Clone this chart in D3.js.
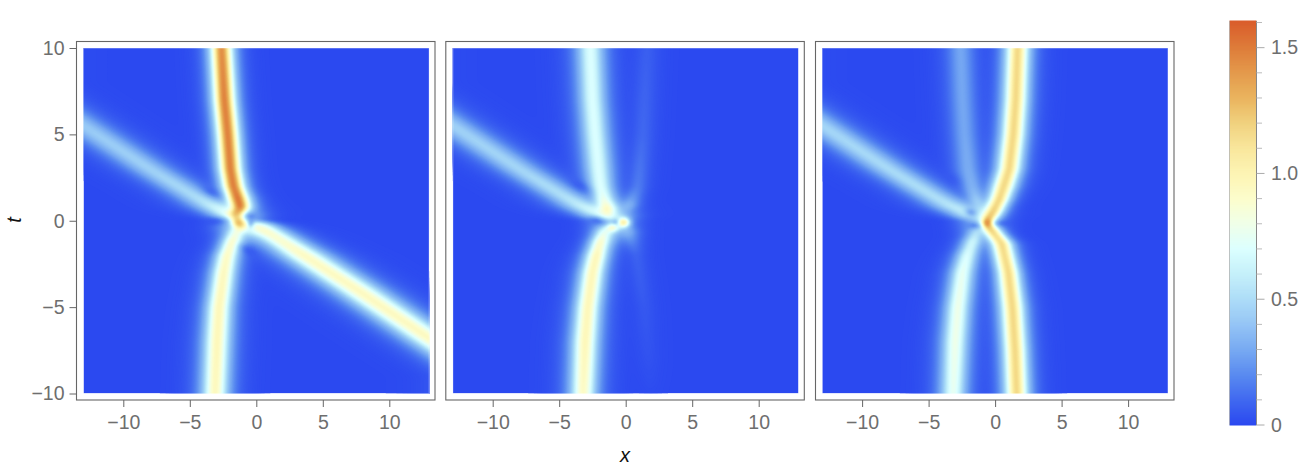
<!DOCTYPE html>
<html><head><meta charset="utf-8">
<script src="https://cdn.jsdelivr.net/npm/d3@7"></script>
<style>html,body{margin:0;background:#fff}svg{display:block}text{font-family:"Liberation Sans",Arial,sans-serif}</style>
</head><body><svg id="c" width="1310" height="474"></svg>
<script>
// Ridge rows: [t, x centre, amplitude, horizontal width]
const p1Upper=[[10,-2.62,1.5,.5],[7,-2.4,1.55,.5],[5,-2.15,1.55,.5],[3,-1.95,1.55,.5],[2,-1.72,1.55,.5],[1.3,-1.4,1.5,.5],[.8,-1.2,1.35,.45],[.45,-1.3,.7,.4],[.2,-1.4,0,.4]];
const p1Lower=[[-10,-3.1,.98,.62],[-7,-2.95,1,.62],[-5,-2.8,1,.6],[-3,-2.45,.98,.58],[-2,-2.2,.95,.55],[-1.2,-1.8,.85,.5],[-.6,-1.5,.5,.45],[-.2,-1.3,0,.4]];
const p1DiagL=[[8,-18,.45,1.15],[5.5,-13,.45,1.15],[3,-8,.48,1.1],[1.6,-5,.52,1.05],[.8,-3.2,.58,1.05],[.3,-2,.5,.95],[0,-1.5,0,.8]];
const p1DiagR=[[0,-.4,0,.8],[-.2,.2,.65,.8],[-.6,.8,.88,.95],[-2,3.6,.96,1.12],[-4,7.6,.97,1.15],[-6.8,13,.97,1.15],[-9,17.4,.97,1.15]];
const p2Upper=[[10,-2.66,.72,.66],[7,-2.5,.72,.66],[5,-2.3,.72,.66],[3,-2.05,.72,.66],[2,-1.9,.72,.62],[1.2,-1.65,.72,.55],[.7,-1.4,.7,.5],[.2,-1.2,0,.4]];
const p2Lower=[[-10,-3.2,.95,.62],[-7,-3.05,1,.62],[-5,-2.85,1,.6],[-3,-2.5,1,.58],[-2,-2.2,1,.55],[-1.2,-1.9,.85,.5],[-.6,-1.6,.5,.45],[-.2,-1.4,0,.4]];
const p2DiagL=[[8,-18,.48,1.15],[5.5,-13,.48,1.15],[3,-8,.5,1.1],[1.6,-5,.54,1.05],[.8,-3.2,.6,1.05],[.3,-2,.5,.95],[0,-1.5,0,.8]];
const p2FanUp=[[10,1.6,.07,.6],[5,1.3,.1,.55],[2,.9,.16,.5],[.9,.3,.25,.45],[.3,0,0,.4]];
const p2FanDown=[[-10,1.9,.01,.6],[-8,1.7,.03,.6],[-5,1.4,.05,.55],[-2,.8,.08,.5],[-.6,.2,.2,.45],[-.2,0,0,.4]];
const p3Upper=[[10,1.69,1.2,.55],[7,1.55,1.2,.55],[5,1.37,1.2,.55],[3,1.06,1.2,.55],[2,.65,1.2,.55],[1.2,.3,1.18,.5],[.5,-.15,1.05,.45],[.1,-.5,1,.35],[-.15,-.6,.85,.3],[-.35,-.6,0,.3]];
const p3Branch=[[.05,-.6,0,.3],[-.15,-.6,.85,.3],[-.5,-.3,1.05,.38],[-1.3,.5,1.18,.5],[-3,1,1.2,.52],[-5,1.3,1.2,.55],[-7.5,1.5,1.2,.55],[-10,1.62,1.2,.55]];
const p3Faint=[[10,-2.6,.3,.65],[7,-2.45,.3,.65],[5,-2.3,.3,.65],[3,-2.05,.32,.65],[2,-1.75,.34,.6],[1.2,-1.4,.38,.5],[.5,-1,.2,.4],[.1,-.8,0,.4]];
const p3Lower=[[-10,-3.15,.78,.62],[-7,-3,.82,.62],[-5,-2.8,.82,.6],[-3,-2.45,.78,.58],[-2,-2.1,.72,.55],[-1.2,-1.7,.6,.5],[-.6,-1.4,.3,.4],[-.2,-1.2,0,.4]];
const p3DiagL=[[8,-18,.5,1.15],[5.5,-13,.5,1.15],[3,-8,.52,1.1],[1.6,-5,.54,1.05],[.8,-3.2,.56,1.05],[.3,-2,.42,.95],[0,-1.5,0,.8]];
// Spot rows: [x, t, spread x, spread t, tilt degrees, delta] (negative delta = hole; applied in order)
const p1Spots=[[-1.3,0,1.2,.75,0,.42],[-1.35,-.08,.4,.22,-35,.9],[-1.6,.48,.3,.13,0,.3],[-3.35,1.63,.5,.16,-25,-.6],[-3.1,0,.55,.14,0,-.8],[-.47,.28,.3,.1,0,-.85],[-.42,-.18,.13,.13,0,-.9],[-.6,-1.7,.5,.17,-25,-.65]];
const p2Spots=[[-1,0,1.2,.75,0,.42],[-1.4,.45,.42,.16,-20,.12],[-.15,-.1,.3,.15,0,1],[-.95,-.38,.3,.13,0,.6],[-2.15,.05,.45,.14,-15,-.8],[-.73,-.1,.14,.08,0,-.9],[-3.4,2,.55,.18,-25,-.6]];
const p3Spots=[[-1,0,1.2,.7,0,.36],[-.57,-.15,.24,.15,0,.42],[-1.8,.47,.3,.12,-15,-.8],[-1.5,-.28,.32,.09,0,-.9],[.5,-.15,.45,.09,0,-.7],[-3.1,2.36,.45,.2,-30,-.35]];
const panelRidges=[[p1Upper,p1Lower,p1DiagL,p1DiagR],[p2Upper,p2Lower,p2DiagL,p2FanUp,p2FanDown],[p3Upper,p3Branch,p3Faint,p3Lower,p3DiagL]];
const panelSpots=[p1Spots,p2Spots,p3Spots];
const xTicks=[-10,-5,0,5,10], yTicks=[-10,-5,0,5,10];
const barLabels=[0,.5,1,1.5];
const barMinor=[.1,.2,.3,.4,.6,.7,.8,.9,1.1,1.2,1.3,1.4,1.6];
const colorValues=[0,.1,.2,.3,.4,.5,.6,.7,.8,.9,1,1.1,1.2,1.3,1.4,1.5,1.6];
const colorHex=["#2b49f0","#4169f0","#5a8bf0","#78aaf2","#90c2f5","#a8daf7","#c4f0fa","#dcffff","#f0ffe8","#fcfdcc","#fdf4b2","#f8e596","#f0cf78","#eab45f","#e49a4c","#de7c3a","#da5e2c"];

const color=d3.scaleLinear().domain(colorValues).range(colorHex).clamp(true);
const panelLeft=[83.4,452.8,822.2], panelW=345.8, plotTop=48, plotBottom=393.5;
const frameLeft=[76.5,445.8,815.5], frameW=358.5, frameTop=41.5, frameBottom=400;
const ink="#6e6e6e", frameInk="#666", labelSize=19.5;
const svg=d3.select("#c");

function makeRidge(rows){
  const ts=rows.map(r=>r[0]);
  const at=i=>d3.scaleLinear().domain(ts).range(rows.map(r=>r[i])).clamp(true);
  const X=at(1),A=at(2),W=at(3);
  return (x,t)=>A(t)/Math.cosh((x-X(t))/W(t));
}
function field(ridges,spots,x,t){
  let s=0; for(const r of ridges){ s+=Math.pow(r(x,t),2.5); }
  let v=Math.pow(s,1/2.5);
  for(const [sx,st,wx,wt,deg,d] of spots){
    const a=deg*Math.PI/180,dx=x-sx,dt=(t-st)*1.3;
    const u=dx*Math.cos(a)+dt*Math.sin(a),w=(-dx*Math.sin(a)+dt*Math.cos(a))/1.3;
    const g=Math.exp(-.5*(u*u/(wx*wx)+w*w/(wt*wt)));
    if(d>=0) v+=d*g; else v*=1+d*g;
  }
  return Math.max(0,v);
}
const defs=svg.append("defs");
panelRidges.forEach((rowsList,pi)=>{
  const x=d3.scaleLinear().domain([-13,13]).range([panelLeft[pi],panelLeft[pi]+panelW]);
  const y=d3.scaleLinear().domain([-10,10]).range([plotBottom,plotTop]);
  const nx=320,ny=320;
  const gx=d3.scaleLinear().domain([0,nx]).range([-14,14]);
  const gy=d3.scaleLinear().domain([0,ny]).range([11,-11]);
  const ridges=rowsList.map(makeRidge), vals=new Float64Array(nx*ny);
  for(let j=0;j<ny;j++)for(let i=0;i<nx;i++) vals[j*nx+i]=field(ridges,panelSpots[pi],gx(i+.5),gy(j+.5));
  const data={data:vals,width:nx,height:ny};
  if(d3.blur2) d3.blur2(data,1.2);
  const th=d3.range(0.0025,.3,.0025).concat(d3.range(.3,1.62,.01));
  const contours=d3.contours().size([nx,ny]).smooth(true).thresholds(th)(Array.from(data.data));
  const proj=d3.geoTransform({point(px,py){this.stream.point(x(gx(px)),y(gy(py)));}});
  const path=d3.geoPath(proj);
  const id="clip"+pi;
  defs.append("clipPath").attr("id",id).append("rect").attr("x",x(-13)).attr("y",plotTop).attr("width",panelW).attr("height",plotBottom-plotTop);
  const g=svg.append("g").attr("clip-path",`url(#${id})`);
  g.append("rect").attr("x",x(-13)).attr("y",plotTop).attr("width",panelW).attr("height",plotBottom-plotTop).attr("fill",color(0));
  g.selectAll("path").data(contours).join("path").attr("d",path).attr("fill",d=>color(d.value));
  svg.append("rect").attr("x",x(-13)).attr("y",plotTop).attr("width",panelW).attr("height",plotBottom-plotTop).attr("fill","none").attr("stroke","#fff").attr("stroke-opacity",.45).attr("stroke-width",1);
  svg.append("rect").attr("x",frameLeft[pi]).attr("y",frameTop).attr("width",frameW).attr("height",frameBottom-frameTop).attr("fill","none").attr("stroke",frameInk).attr("stroke-width",1.1);
  const ax=svg.append("g").attr("transform",`translate(0,${frameBottom})`).call(d3.axisBottom(x).tickValues(xTicks).tickSize(7).tickPadding(8).tickFormat(d=>d3.format("")(d).replace("-","\u2212")));
  ax.select(".domain").remove();
  ax.selectAll("line").attr("stroke",frameInk);
  ax.selectAll("text").attr("fill",ink).attr("font-size",labelSize).attr("font-family","Liberation Sans");
  if(pi===0){
    const ay=svg.append("g").attr("transform",`translate(${frameLeft[0]},0)`).call(d3.axisLeft(y).tickValues(yTicks).tickSize(7).tickPadding(5).tickFormat(d=>d3.format("")(d).replace("-","\u2212")));
    ay.select(".domain").remove();
    ay.selectAll("line").attr("stroke",frameInk);
    ay.selectAll("text").attr("fill",ink).attr("font-size",labelSize).attr("font-family","Liberation Sans");
  }
});
svg.append("text").attr("x",625).attr("y",462).attr("text-anchor","middle").attr("font-size",20).attr("font-style","italic").attr("fill","#111").text("x");
svg.append("text").attr("transform","translate(21,220) rotate(-90)").attr("text-anchor","middle").attr("font-size",20).attr("font-style","italic").attr("fill","#111").text("t");
const bar=d3.scaleLinear().domain([0,1.606]).range([425,21]);
const bx=1229.5,bw=27;
const steps=d3.range(0,1.606,.004);
svg.append("g").selectAll("rect").data(steps).join("rect").attr("x",bx).attr("width",bw).attr("y",d=>bar(d+.004)).attr("height",d=>bar(d)-bar(d+.004)+.5).attr("fill",d=>color(d));
svg.append("line").attr("x1",bx+bw).attr("x2",bx+bw).attr("y1",21).attr("y2",425).attr("stroke","#888");
svg.append("line").attr("x1",bx).attr("x2",bx).attr("y1",21).attr("y2",425).attr("stroke","#aaa").attr("stroke-opacity",.7);
svg.append("g").selectAll("line").data(barMinor.filter(d=>d<1.606)).join("line").attr("x1",bx+bw).attr("x2",bx+bw+5.5).attr("y1",d=>bar(d)).attr("y2",d=>bar(d)).attr("stroke","#bbb");
svg.append("g").selectAll("line").data(barLabels).join("line").attr("x1",bx+bw).attr("x2",bx+bw+8).attr("y1",d=>bar(d)).attr("y2",d=>bar(d)).attr("stroke","#aaa");
svg.append("g").selectAll("text").data(barLabels).join("text").attr("x",bx+bw+14.5).attr("y",d=>bar(d)+6.5).attr("font-size",labelSize).attr("fill",ink).text(d=>d===0?"0":d3.format(".1f")(d));
</script></body></html>
